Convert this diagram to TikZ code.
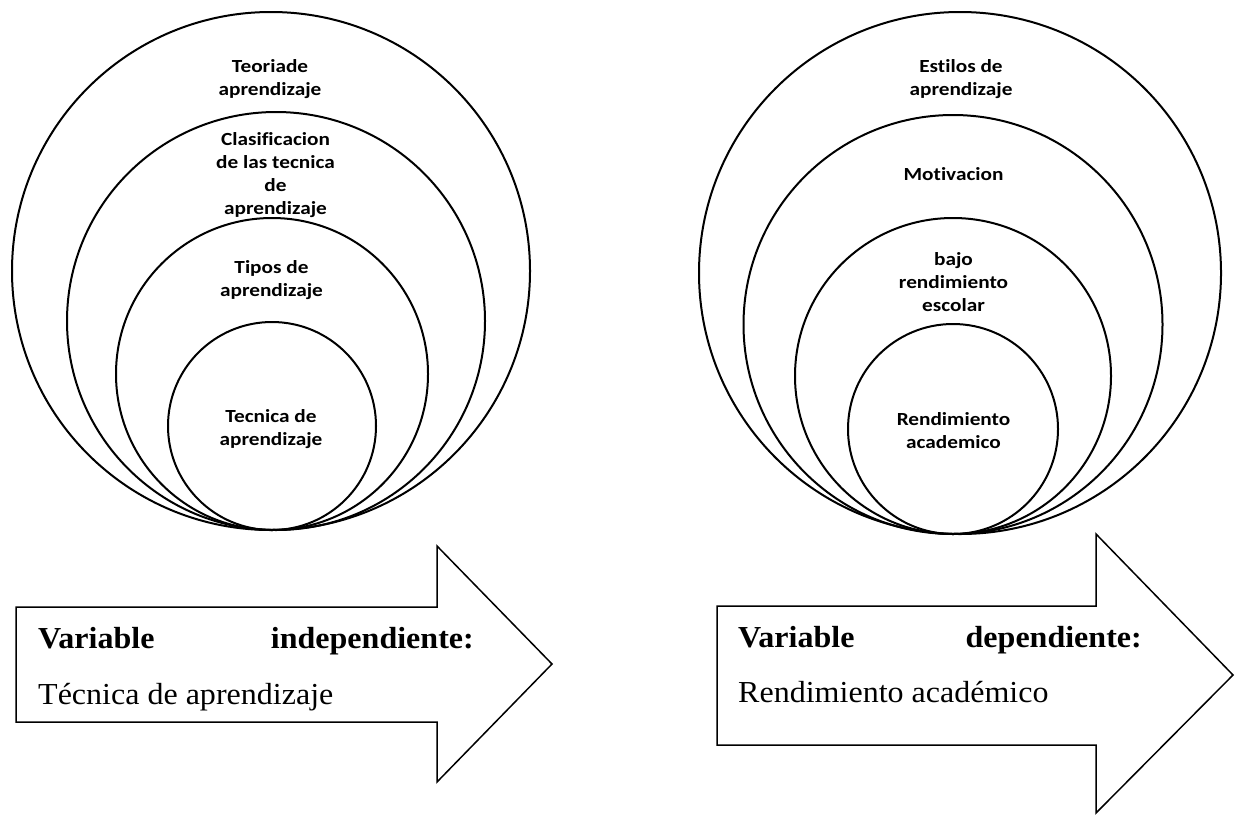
\documentclass[tikz,border=0pt]{standalone}
\usepackage{fontspec}
\newfontfamily\circfont[FakeStretch=1.15,Ligatures=NoCommon]{Carlito}
\newfontfamily\tnrfont[FakeStretch=1.05]{Liberation Serif}
\begin{document}
\begin{tikzpicture}[x=1pt,y=-1pt,
  ring/.style={line width=2pt},
  arrowshape/.style={line width=1.5pt, line join=miter},
  clabel/.style={font=\circfont\bfseries\fontsize{18.5}{23}\selectfont, align=center, inner sep=0pt},
  vlabel/.style={font=\tnrfont\fontsize{30.5}{36}\selectfont, inner sep=0pt},
  vbold/.style={font=\tnrfont\bfseries\fontsize{30.5}{36}\selectfont, inner sep=0pt}]
\useasboundingbox (0,0) rectangle (1238,814);
\fill[white] (0,0) rectangle (1238,814);
% left rings
\draw[ring] (271,271) circle[radius=259];
\draw[ring] (276,321) circle[radius=209];
\draw[ring] (272,374) circle[radius=156];
\draw[ring] (272,426) circle[radius=104];
% right rings
\draw[ring] (960,273) circle[radius=261];
\draw[ring] (953,324.5) circle[radius=209.5];
\draw[ring] (953,376) circle[radius=158];
\draw[ring] (953,429) circle[radius=105];
% left labels
\node[clabel] (l1) at (270,79) {Teoriade\\aprendizaje};
\node[clabel] (l2) at (275.5,175.5) {Clasificacion\\de las tecnica\\de\\aprendizaje};
\node[clabel] (l3) at (271.5,280) {Tipos de\\aprendizaje};
\node[clabel] (l4) at (271,429) {Tecnica de\\aprendizaje};
% right labels
\node[clabel] (r1) at (961,79) {Estilos de\\aprendizaje};
\node[clabel, anchor=base] (r2) at (953.5,180) {Motivacion};
\node[clabel] (r3) at (953.5,282) {bajo\\rendimiento\\escolar};
\node[clabel] (r4) at (953.5,431) {Rendimiento\\academico};
% arrows
\draw[arrowshape] (16,607) -- (437,607) -- (437,546) -- (552,664) -- (437,782) -- (437,722) -- (16,722) -- cycle;
\draw[arrowshape] (717,606) -- (1096,606) -- (1096,534) -- (1233,675) -- (1096,813) -- (1096,745) -- (717,745) -- cycle;
% arrow texts
\node[vbold, anchor=base west] (lvar) at (38,648) {Variable};
\node[vbold, anchor=base east] (lind) at (474,648) {independiente:};
\node[vlabel, anchor=base west] (ltec) at (38,704) {Técnica de aprendizaje};
\node[vbold, anchor=base west] (rvar) at (738,647) {Variable};
\node[vbold, anchor=base east] (rdep) at (1142,647) {dependiente:};
\node[vlabel, anchor=base west] (rren) at (738,702) {Rendimiento académico};
\end{tikzpicture}
\end{document}
